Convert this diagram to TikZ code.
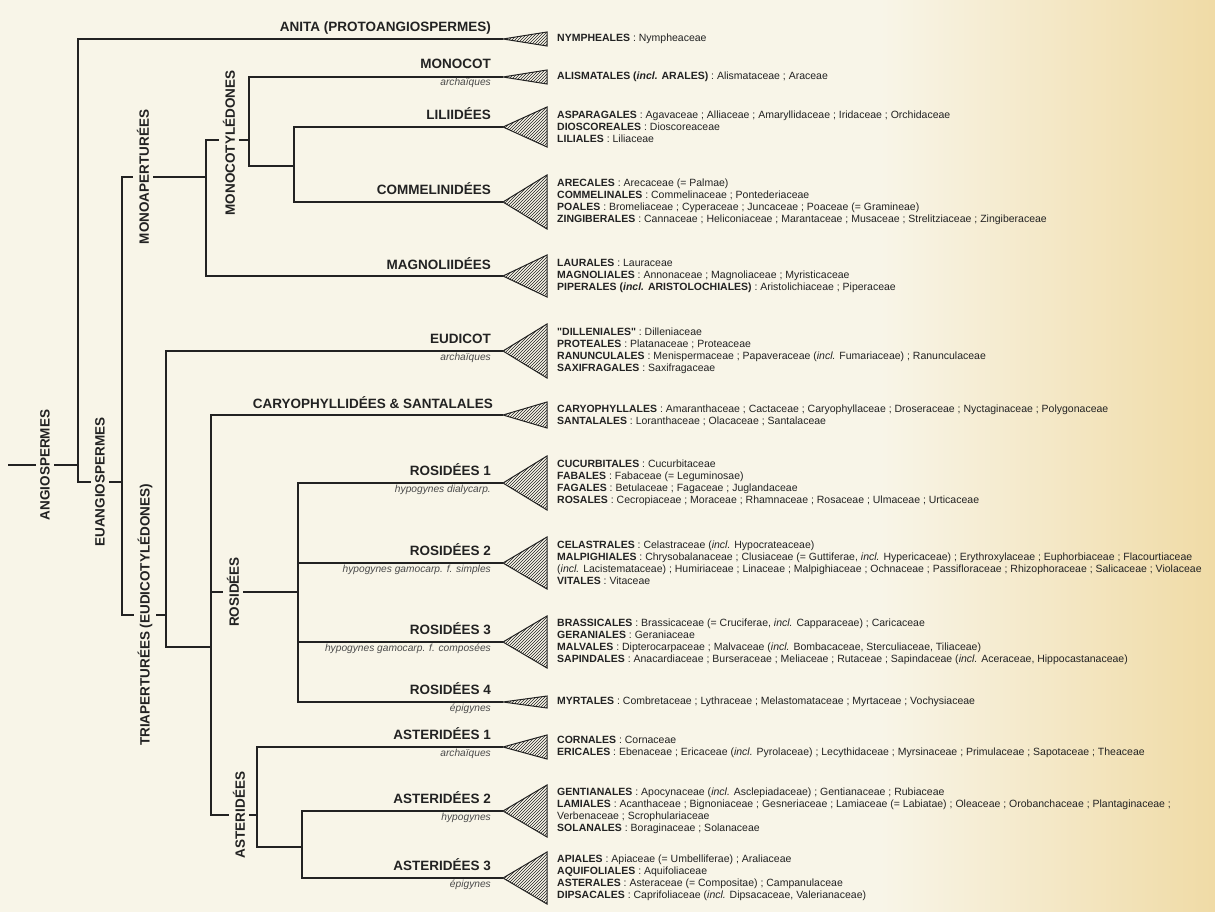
\documentclass[tikz,border=0pt]{standalone}
\usepackage{fontspec}
\setmainfont{Liberation Sans}
\usetikzlibrary{calc, patterns}
\definecolor{paper}{HTML}{F8F5E8}
\definecolor{paperdk}{HTML}{F0DBA6}
\definecolor{ink}{HTML}{222222}
\definecolor{inkgray}{HTML}{4A4A4A}

\tikzset{
  branch/.style={ink, line width=1.2pt},
  clade/.style={draw=ink, line width=1pt, pattern=north east lines, pattern color=ink},
  grp/.style={font=\fontsize{13.5}{15}\selectfont\bfseries, text=ink, anchor=base east, inner sep=0pt},
  sublab/.style={font=\fontsize{10.2}{12}\selectfont\itshape, text=inkgray, anchor=base east, inner sep=0pt},
  vlab/.style={font=\fontsize{13.5}{15}\selectfont\bfseries, text=ink, rotate=90, fill=paper, inner xsep=2pt, inner ysep=4pt},
  orders/.style={font=\fontsize{10.5}{12}\selectfont, text=ink, anchor=west, align=left, inner sep=0pt},
}

\begin{document}
\begin{tikzpicture}[x=1pt, y=-1pt]
  % paper
  \fill[paper] (0,0) rectangle (1215,912);
  \shade[left color=paper, right color=paperdk] (880,0) rectangle (1215,912);
  \useasboundingbox (0,0) rectangle (1215,912);

  % leaf tips (apex of each triangle)
  \foreach \n/\y in {anita/39, monocot/77, lili/127, commel/202, magnol/276, eudicot/351, caryo/415,
                     rosA/483, rosB/563, rosC/642, rosD/702, astA/747, astB/811, astC/878}{
    \coordinate (\n) at (503,\y);
  }

  % inner nodes
  \coordinate (root) at (8,465);
  \coordinate (nAngio) at (78,465);
  \coordinate (nEuang) at (122,482);
  \coordinate (nMonoap) at (206,177);
  \coordinate (nMonocot) at (249,140);
  \coordinate (nLili) at (294,166);
  \coordinate (nTriap) at (166,615);
  \coordinate (nCore) at (211,647);
  \coordinate (nRos) at (298,592);
  \coordinate (nAster) at (257,815);
  \coordinate (nAst23) at (302,847);

  % branches
  \draw[branch] (root) -- (nAngio);
  \draw[branch] (nAngio) |- (anita);
  \draw[branch] (nAngio) |- (nEuang);
  \draw[branch] (nEuang) |- (nMonoap);
  \draw[branch] (nEuang) |- (nTriap);
  \draw[branch] (nMonoap) |- (nMonocot);
  \draw[branch] (nMonoap) |- (magnol);
  \draw[branch] (nMonocot) |- (monocot);
  \draw[branch] (nMonocot) |- (nLili);
  \draw[branch] (nLili) |- (lili);
  \draw[branch] (nLili) |- (commel);
  \draw[branch] (nTriap) |- (eudicot);
  \draw[branch] (nTriap) |- (nCore);
  \draw[branch] (nCore) |- (caryo);
  \draw[branch] (nCore) |- (nRos);
  \draw[branch] (nCore) |- (nAster);
  \foreach \t in {rosA, rosB, rosC, rosD}{
    \draw[branch] (nRos) |- (\t);
  }
  \draw[branch] (nAster) |- (astA);
  \draw[branch] (nAster) |- (nAst23);
  \draw[branch] (nAst23) |- (astB);
  \draw[branch] (nAst23) |- (astC);

  % hatched triangles
  \foreach \n/\h in {anita/7, monocot/7, lili/20, commel/27, magnol/21, eudicot/27, caryo/13,
                     rosA/27, rosB/26, rosC/26, rosD/6, astA/12, astB/26, astC/26}{
    \draw[clade] (\n) -- ++(44,-\h) -- ++(0,2*\h) -- cycle;
  }

  % labels on the stems
  \node[vlab] (vAngio) at (45,465) {ANGIOSPERMES};
  \node[vlab] (vEuang) at (100,482) {EUANGIOSPERMES};
  \node[vlab] (vMonoap) at (143,177) {MONOAPERTURÉES};
  \node[vlab] (vMonocot) at (229,143) {MONOCOTYLÉDONES};
  \node[vlab] (vTriap) at (145,615) {TRIAPERTURÉES (EUDICOTYLÉDONES)};
  \node[vlab] (vRos) at (233,592) {ROSIDÉES};
  \node[vlab] (vAster) at (239,815) {ASTERIDÉES};

  % clade names
  \node[grp] (gAnita) at ($(anita)+(-12,-7)$) {ANITA (PROTOANGIOSPERMES)};
  \node[grp] (gMonocot) at ($(monocot)+(-12,-8)$) {MONOCOT};
  \node[sublab] (sMonocot) at ($(monocot)+(-12,9)$) {archaïques};
  \node[grp] (gLili) at ($(lili)+(-12,-7)$) {LILIIDÉES};
  \node[grp] (gCommel) at ($(commel)+(-12,-7)$) {COMMELINIDÉES};
  \node[grp] (gMagnol) at ($(magnol)+(-12,-7)$) {MAGNOLIIDÉES};
  \node[grp] (gEudicot) at ($(eudicot)+(-12,-8)$) {EUDICOT};
  \node[sublab] (sEudicot) at ($(eudicot)+(-12,9)$) {archaïques};
  \node[grp] (gCaryo) at ($(caryo)+(-10,-7)$) {CARYOPHYLLIDÉES \& SANTALALES};
  \node[grp] (gRosA) at ($(rosA)+(-12,-8)$) {ROSIDÉES 1};
  \node[sublab] (sRosA) at ($(rosA)+(-12,9)$) {hypogynes dialycarp.};
  \node[grp] (gRosB) at ($(rosB)+(-12,-8)$) {ROSIDÉES 2};
  \node[sublab] (sRosB) at ($(rosB)+(-12,9)$) {hypogynes gamocarp. f. simples};
  \node[grp] (gRosC) at ($(rosC)+(-12,-8)$) {ROSIDÉES 3};
  \node[sublab] (sRosC) at ($(rosC)+(-12,9)$) {hypogynes gamocarp. f. composées};
  \node[grp] (gRosD) at ($(rosD)+(-12,-8)$) {ROSIDÉES 4};
  \node[sublab] (sRosD) at ($(rosD)+(-12,9)$) {épigynes};
  \node[grp] (gAstA) at ($(astA)+(-12,-8)$) {ASTERIDÉES 1};
  \node[sublab] (sAstA) at ($(astA)+(-12,9)$) {archaïques};
  \node[grp] (gAstB) at ($(astB)+(-12,-8)$) {ASTERIDÉES 2};
  \node[sublab] (sAstB) at ($(astB)+(-12,9)$) {hypogynes};
  \node[grp] (gAstC) at ($(astC)+(-12,-8)$) {ASTERIDÉES 3};
  \node[sublab] (sAstC) at ($(astC)+(-12,9)$) {épigynes};

  % orders and families
  \node[orders] (oAnita) at ($(anita)+(54,0)$) {\textbf{NYMPHEALES} : Nympheaceae};
  \node[orders] (oMonocot) at ($(monocot)+(54,0)$) {\textbf{ALISMATALES (\textit{incl.} ARALES)} : Alismataceae ; Araceae};
  \node[orders] (oLili) at ($(lili)+(54,0)$) {\textbf{ASPARAGALES} : Agavaceae ; Alliaceae ; Amaryllidaceae ; Iridaceae ; Orchidaceae\\
    \textbf{DIOSCOREALES} : Dioscoreaceae\\
    \textbf{LILIALES} : Liliaceae};
  \node[orders] (oCommel) at ($(commel)+(54,0)$) {\textbf{ARECALES} : Arecaceae (= Palmae)\\
    \textbf{COMMELINALES} : Commelinaceae ; Pontederiaceae\\
    \textbf{POALES} : Bromeliaceae ; Cyperaceae ; Juncaceae ; Poaceae (= Gramineae)\\
    \textbf{ZINGIBERALES} : Cannaceae ; Heliconiaceae ; Marantaceae ; Musaceae ; Strelitziaceae ; Zingiberaceae};
  \node[orders] (oMagnol) at ($(magnol)+(54,0)$) {\textbf{LAURALES} : Lauraceae\\
    \textbf{MAGNOLIALES} : Annonaceae ; Magnoliaceae ; Myristicaceae\\
    \textbf{PIPERALES (\textit{incl.} ARISTOLOCHIALES)} : Aristolichiaceae ; Piperaceae};
  \node[orders] (oEudicot) at ($(eudicot)+(54,0)$) {\textbf{\textquotedbl DILLENIALES\textquotedbl} : Dilleniaceae\\
    \textbf{PROTEALES} : Platanaceae ; Proteaceae\\
    \textbf{RANUNCULALES} : Menispermaceae ; Papaveraceae (\textit{incl.} Fumariaceae) ; Ranunculaceae\\
    \textbf{SAXIFRAGALES} : Saxifragaceae};
  \node[orders] (oCaryo) at ($(caryo)+(54,0)$) {\textbf{CARYOPHYLLALES} : Amaranthaceae ; Cactaceae ; Caryophyllaceae ; Droseraceae ; Nyctaginaceae ; Polygonaceae\\
    \textbf{SANTALALES} : Loranthaceae ; Olacaceae ; Santalaceae};
  \node[orders] (oRosA) at ($(rosA)+(54,0)$) {\textbf{CUCURBITALES} : Cucurbitaceae\\
    \textbf{FABALES} : Fabaceae (= Leguminosae)\\
    \textbf{FAGALES} : Betulaceae ; Fagaceae ; Juglandaceae\\
    \textbf{ROSALES} : Cecropiaceae ; Moraceae ; Rhamnaceae ; Rosaceae ; Ulmaceae ; Urticaceae};
  \node[orders] (oRosB) at ($(rosB)+(54,0)$) {\textbf{CELASTRALES} : Celastraceae (\textit{incl.} Hypocrateaceae)\\
    \textbf{MALPIGHIALES} : Chrysobalanaceae ; Clusiaceae (= Guttiferae, \textit{incl.} Hypericaceae) ; Erythroxylaceae ; Euphorbiaceae ; Flacourtiaceae\\
    (\textit{incl.} Lacistemataceae) ; Humiriaceae ; Linaceae ; Malpighiaceae ; Ochnaceae ; Passifloraceae ; Rhizophoraceae ; Salicaceae ; Violaceae\\
    \textbf{VITALES} : Vitaceae};
  \node[orders] (oRosC) at ($(rosC)+(54,0)$) {\textbf{BRASSICALES} : Brassicaceae (= Cruciferae, \textit{incl.} Capparaceae) ; Caricaceae\\
    \textbf{GERANIALES} : Geraniaceae\\
    \textbf{MALVALES} : Dipterocarpaceae ; Malvaceae (\textit{incl.} Bombacaceae, Sterculiaceae, Tiliaceae)\\
    \textbf{SAPINDALES} : Anacardiaceae ; Burseraceae ; Meliaceae ; Rutaceae ; Sapindaceae (\textit{incl.} Aceraceae, Hippocastanaceae)};
  \node[orders] (oRosD) at ($(rosD)+(54,0)$) {\textbf{MYRTALES} : Combretaceae ; Lythraceae ; Melastomataceae ; Myrtaceae ; Vochysiaceae};
  \node[orders] (oAstA) at ($(astA)+(54,0)$) {\textbf{CORNALES} : Cornaceae\\
    \textbf{ERICALES} : Ebenaceae ; Ericaceae (\textit{incl.} Pyrolaceae) ; Lecythidaceae ; Myrsinaceae ; Primulaceae ; Sapotaceae ; Theaceae};
  \node[orders] (oAstB) at ($(astB)+(54,0)$) {\textbf{GENTIANALES} : Apocynaceae (\textit{incl.} Asclepiadaceae) ; Gentianaceae ; Rubiaceae\\
    \textbf{LAMIALES} : Acanthaceae ; Bignoniaceae ; Gesneriaceae ; Lamiaceae (= Labiatae) ; Oleaceae ; Orobanchaceae ; Plantaginaceae ;\\
    Verbenaceae ; Scrophulariaceae\\
    \textbf{SOLANALES} : Boraginaceae ; Solanaceae};
  \node[orders] (oAstC) at ($(astC)+(54,0)$) {\textbf{APIALES} : Apiaceae (= Umbelliferae) ; Araliaceae\\
    \textbf{AQUIFOLIALES} : Aquifoliaceae\\
    \textbf{ASTERALES} : Asteraceae (= Compositae) ; Campanulaceae\\
    \textbf{DIPSACALES} : Caprifoliaceae (\textit{incl.} Dipsacaceae, Valerianaceae)};
\end{tikzpicture}
\end{document}
